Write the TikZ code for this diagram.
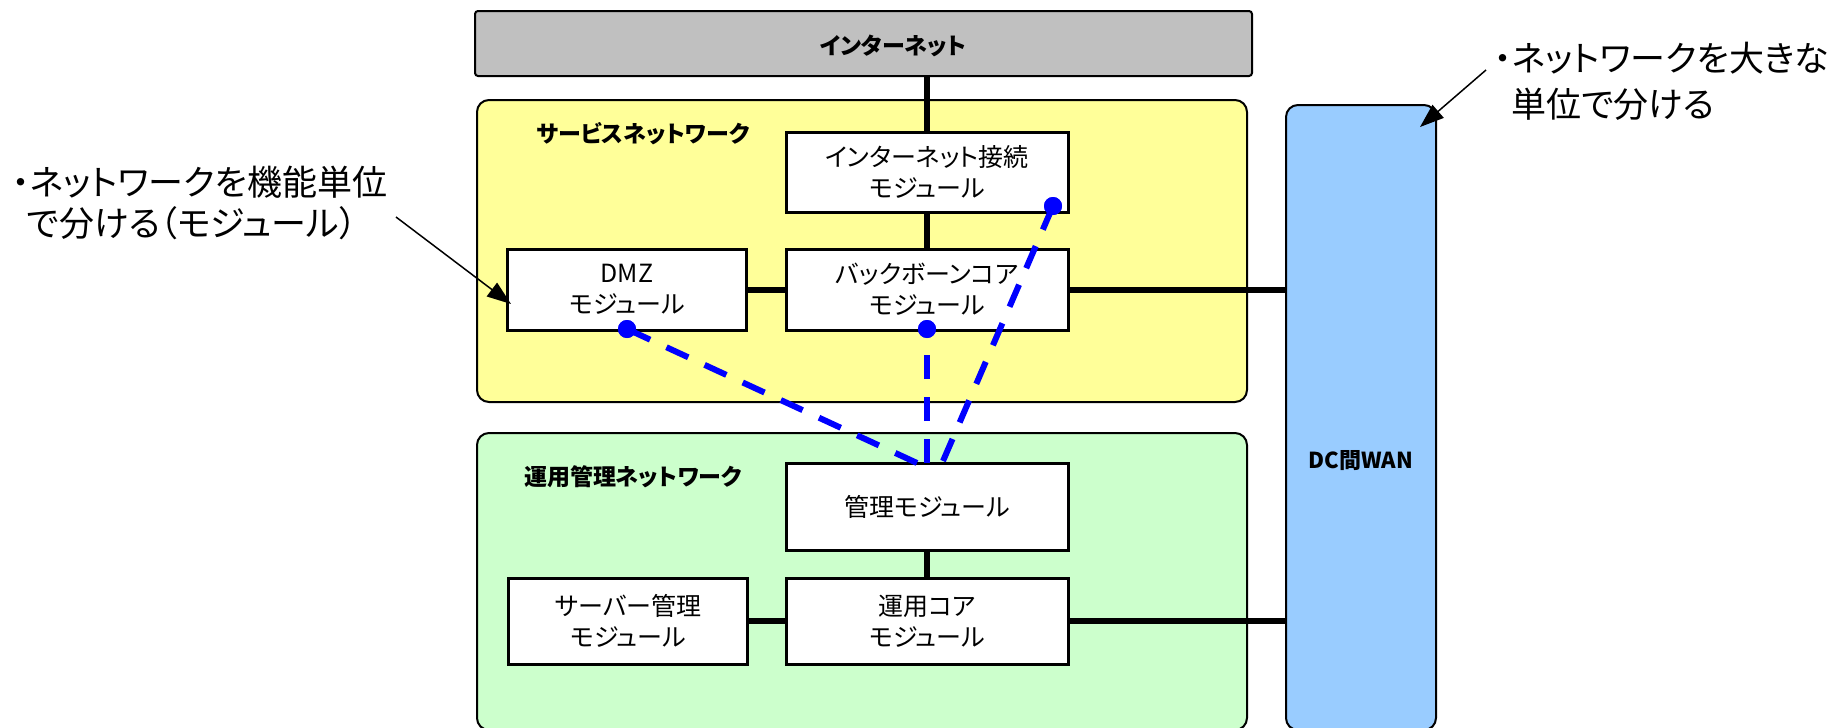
\documentclass[tikz,border=0pt]{standalone}
\usepackage{fontspec}
\setmainfont{Noto Sans CJK JP}[RawFeature=+palt]
\usetikzlibrary{arrows.meta,calc}
\definecolor{svcfill}{HTML}{FFFF99}
\definecolor{opsfill}{HTML}{CCFFCC}
\definecolor{wanfill}{HTML}{99CCFF}
\definecolor{inetfill}{HTML}{C0C0C0}
\definecolor{dashblue}{HTML}{0000FF}
\tikzset{
  area/.style={draw=black, line width=2pt, rounded corners=12pt, inner sep=0pt},
  modbox/.style={draw=black, line width=3pt, fill=white, align=center, inner sep=0pt,
    font=\fontsize{25}{31}\selectfont},
  arealabel/.style={font=\fontsize{23}{28}\selectfont\bfseries, inner sep=0pt},
  link/.style={line width=6pt},
  mlink/.style={draw=dashblue, line width=6pt, dash pattern=on 24pt off 18pt},
  dotnode/.style={circle, fill=dashblue, minimum size=18pt, inner sep=0pt},
  note/.style={font=\fontsize{35}{41}\selectfont, align=left, inner sep=0pt, anchor=base west},
  pointer/.style={line width=1.5pt, -{Triangle[length=24pt,width=17pt]}}
}
\begin{document}
\begin{tikzpicture}[x=1pt,y=-1pt]
\useasboundingbox (0,0) rectangle (1842,728);

% big areas
\node[area, fill=inetfill, rounded corners=3pt, minimum width=777pt, minimum height=65pt] (inet) at (863.5,43.5) {};
\node[arealabel] (inetlabel) at (893,46) {インターネット};
\node[area, fill=svcfill, minimum width=770pt, minimum height=302pt] (svc) at (862,251) {};
\node[arealabel] (svclabel) at (643,134) {サービスネットワーク};
\node[area, fill=opsfill, minimum width=770pt, minimum height=297pt] (ops) at (862,581.5) {};
\node[arealabel] (opslabel) at (633,477) {運用管理ネットワーク};
\node[area, fill=wanfill, minimum width=150pt, minimum height=625pt] (wan) at (1361,417.5) {};
\node[arealabel, font=\fontsize{22}{26}\selectfont\bfseries] (wanlabel) at (1361,461) {DC間WAN};

% modules
\node[modbox, minimum width=282pt, minimum height=80pt] (conn) at (927,172) {インターネット接続\\モジュール};
\node[modbox, minimum width=282pt, minimum height=81pt] (bb) at (927,289.5) {バックボーンコア\\モジュール};
\node[modbox, minimum width=239pt, minimum height=81pt] (dmz) at (627,289.5) {DMZ\\モジュール};
\node[modbox, minimum width=282pt, minimum height=87pt] (mgmt) at (927,506.5) {管理モジュール};
\node[modbox, minimum width=282pt, minimum height=86pt] (core) at (927,621) {運用コア\\モジュール};
\node[modbox, minimum width=239pt, minimum height=86pt] (srv) at (628,621) {サーバー管理\\モジュール};

% solid links
\draw[link] (inet.south -| conn.north) -- (conn.north);
\draw[link] (conn.south) -- (bb.north);
\draw[link] (dmz.east) -- (bb.west);
\draw[link] (bb.east) -- (bb.east -| wan.west);
\draw[link] (mgmt.south) -- (core.north);
\draw[link] (srv.east) -- (core.west);
\draw[link] (core.east) -- (core.east -| wan.west);

% management links
\node[dotnode] (pdmz) at (627,329) {};
\node[dotnode] (pbb) at (927,329) {};
\node[dotnode] (pconn) at (1053,206) {};
\coordinate (edmz) at (917,463);
\coordinate (ebb) at (927,463);
\coordinate (econn) at (943,461);
\draw[mlink] (edmz) -- (pdmz.center);
\draw[mlink] (ebb) -- (pbb.center);
\draw[mlink] (econn) -- (pconn.center);
\node[dotnode] at (pdmz) {};
\node[dotnode] at (pbb) {};
\node[dotnode] at (pconn) {};

% notes
\node[note] (noteL) at (12,236) {・ネットワークを機能単位\\\hspace*{15pt}で分ける（モジュール）};
\node[note, font=\fontsize{35}{46}\selectfont] (noteR) at (1494,117) {・ネットワークを大きな\\\hspace*{17pt}単位で分ける};
\coordinate (aLs) at (396,217);
\coordinate (aLe) at (511,304);
\coordinate (aRs) at (1486,70);
\coordinate (aRe) at (1420,127);
\draw[pointer] (aLs) -- (aLe);
\draw[pointer] (aRs) -- (aRe);
\end{tikzpicture}
\end{document}
